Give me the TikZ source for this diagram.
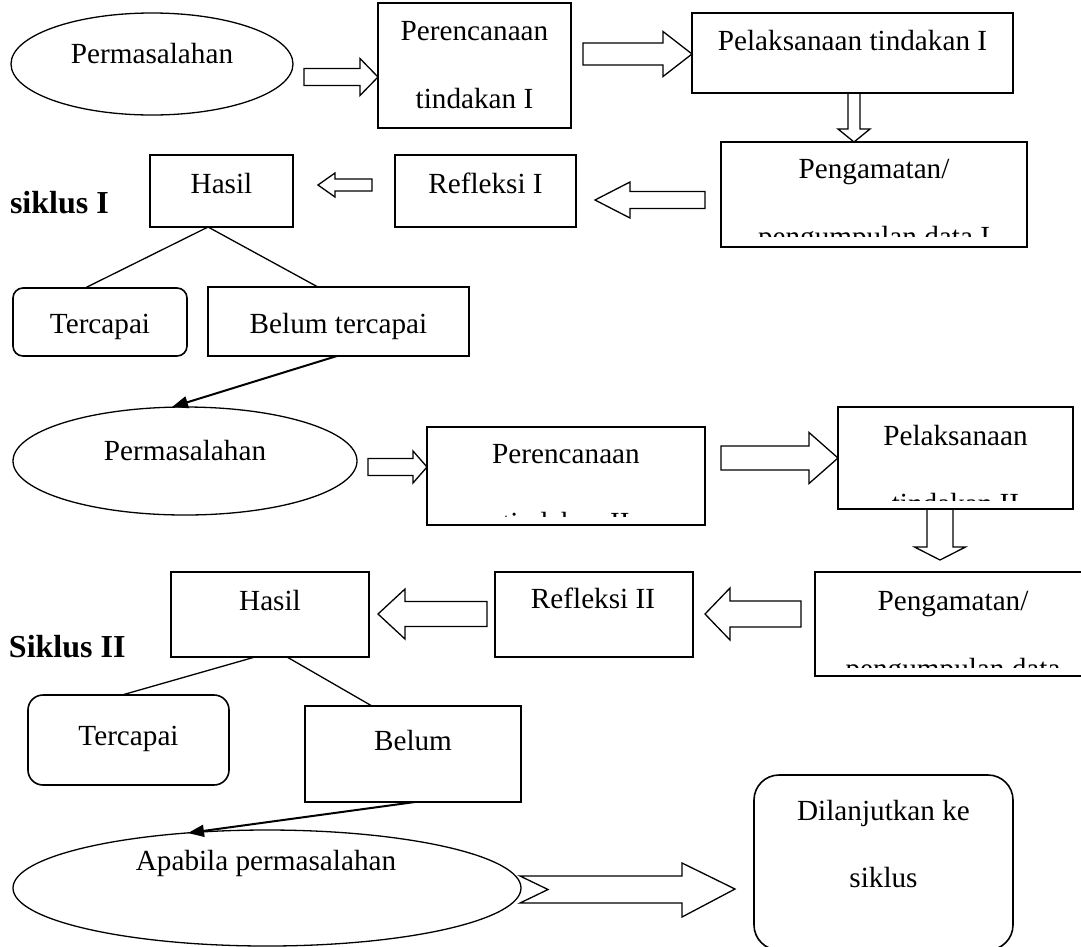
\documentclass[tikz,border=0pt]{standalone}
\usepackage{fontspec}
\setmainfont{Liberation Serif}
\usetikzlibrary{shapes.geometric,arrows.meta,calc}
\newcommand\mkbox[6]{\node[#1, minimum width={#5-#3}, minimum height={#6-#4}] (#2) at ({(#3+#5)/2},{(#4+#6)/2}) {};}
% right block arrow: x-start, tip, head-base, cy, shaft half, head half
\newcommand\myRarr[6]{\draw[blk] (#1,#4-#5) -- (#3,#4-#5) -- (#3,#4-#6) -- (#2,#4) -- (#3,#4+#6) -- (#3,#4+#5) -- (#1,#4+#5) -- cycle;}
% left block arrow: tip, head-base, x-end, cy, shaft half, head half
\newcommand\myLarr[6]{\draw[blk] (#3,#4-#5) -- (#2,#4-#5) -- (#2,#4-#6) -- (#1,#4) -- (#2,#4+#6) -- (#2,#4+#5) -- (#3,#4+#5) -- cycle;}
% down block arrow: y-start, tip, head-base, cx, shaft half, head half
\newcommand\myDarr[6]{\draw[blk] (#4-#5,#1) -- (#4-#5,#3) -- (#4-#6,#3) -- (#4,#2) -- (#4+#6,#3) -- (#4+#5,#3) -- (#4+#5,#1) -- cycle;}
\begin{document}
\begin{tikzpicture}[x=1pt,y=-1pt,
 box/.style={draw, line width=1.6pt, inner sep=0pt, outer sep=0pt},
 oval/.style={draw, ellipse, line width=1.3pt, inner sep=0pt, outer sep=0pt},
 blk/.style={line width=1.3pt, line join=miter},
 conn/.style={line width=1.3pt},
 txt/.style={anchor=base, inner sep=0pt, outer sep=0pt, font=\fontsize{29.2}{35}\selectfont},
 btxt/.style={anchor=base west, inner sep=0pt, outer sep=0pt, font=\fontsize{32}{38}\selectfont\bfseries},
 ptr/.style={line width=2pt, -{Triangle[length=16pt,width=12pt]}}]
\useasboundingbox (0,0) rectangle (1081,946);

% ---------------- Row 1 ----------------
\node[oval, minimum width=282, minimum height=102] (e1) at (152,64) {};
\node[txt] (e1t) at (152,63) {Permasalahan};
\myRarr{304}{378}{360}{77}{8.5}{18.5}
\mkbox{box}{per1}{378}{3}{571}{128}
\node[txt] (per1a) at (474.5,40) {Perencanaan};
\node[txt] (per1b) at (474.5,108) {tindakan I};
\myRarr{583}{692}{663}{54}{11}{22.5}
\mkbox{box}{pel1}{692}{13}{1013}{93}
\node[txt] (pel1t) at (852.5,50) {Pelaksanaan tindakan I};
\myDarr{93}{142}{129}{854}{6}{16}
\mkbox{box}{pen1}{721}{142}{1027}{247}
\node[txt] (pen1a) at (874,178) {Pengamatan/};
\begin{scope}
\clip (721,142) rectangle (1027,236);
\node[txt] (pen1b) at (874,246) {pengumpulan data I};
\end{scope}

% ---------------- Row 2 (siklus I) ----------------
\mkbox{box}{has1}{150}{155}{293}{227}
\node[txt] (has1t) at (221.5,193) {Hasil};
\myLarr{318}{335}{372}{185}{6}{12}
\mkbox{box}{ref1}{395}{155}{576}{227}
\node[txt] (ref1t) at (485.5,193) {Refleksi I};
\myLarr{595}{630}{705}{200}{8.5}{18}
\node[btxt] (sik1) at (10,213) {siklus I};
\mkbox{box, rounded corners=10pt}{tc1}{13}{288}{187}{356}
\node[txt] (tc1t) at (100,333) {Tercapai};
\mkbox{box}{bt1}{208}{287}{469}{356}
\node[txt] (bt1t) at (338.5,333) {Belum tercapai};
\coordinate (h1s) at ($(has1.south west)!0.406!(has1.south east)$);
\draw[conn] (h1s) -- ($(tc1.north west)!0.414!(tc1.north east)$);
\draw[conn] (h1s) -- ($(bt1.north west)!0.421!(bt1.north east)$);

% ---------------- Row 3 ----------------
\node[oval, minimum width=344, minimum height=108] (e2) at (185,461) {};
\node[txt] (e2t) at (185,460) {Permasalahan};
\draw[ptr] ($(bt1.south west)!0.494!(bt1.south east)$) -- ($(e2.north)+(-13,0)$);
\myRarr{368}{427}{413}{467}{8.5}{16}
\mkbox{box}{per2}{427}{427}{705}{525}
\node[txt] (per2a) at (566,463) {Perencanaan};
\begin{scope}
\clip (427,427) rectangle (705,516);
\node[txt] (per2b) at (566,532) {tindakan II};
\end{scope}
\myRarr{721}{838}{809}{458}{12}{25.5}
\mkbox{box}{pel2}{838}{407}{1073}{509}
\node[txt] (pel2a) at (955.5,445) {Pelaksanaan};
\begin{scope}
\clip (838,407) rectangle (1073,500);
\node[txt] (pel2b) at (955.5,513) {tindakan II};
\end{scope}
\myDarr{509}{560}{547}{940}{13}{25.5}
\mkbox{box}{pen2}{815}{572}{1095}{676}
\node[txt] (pen2a) at (953,610) {Pengamatan/};
\begin{scope}
\clip (815,572) rectangle (1095,667);
\node[txt] (pen2b) at (953,678) {pengumpulan data};
\end{scope}

% ---------------- Row 4 (Siklus II) ----------------
\myLarr{705}{730}{801}{614}{13}{26}
\mkbox{box}{ref2}{495}{572}{693}{657}
\node[txt] (ref2t) at (593,608) {Refleksi II};
\myLarr{378}{405}{487}{614}{12.5}{25}
\mkbox{box}{has2}{171}{572}{369}{657}
\node[txt] (has2t) at (270,610) {Hasil};
\node[btxt] (sik2) at (9,657) {Siklus II};
\mkbox{box, rounded corners=15pt}{tc2}{28}{695}{229}{785}
\node[txt] (tc2t) at (128.5,745) {Tercapai};
\mkbox{box}{bt2}{305}{706}{521}{802}
\node[txt] (bt2t) at (413,750) {Belum};
\draw[conn] ($(has2.south west)!0.424!(has2.south east)$) -- ($(tc2.north west)!0.468!(tc2.north east)$);
\draw[conn] ($(has2.south west)!0.586!(has2.south east)$) -- ($(bt2.north west)!0.310!(bt2.north east)$);

% ---------------- Row 5 ----------------
\node[oval, minimum width=508, minimum height=116] (e3) at (267,888) {};
\node[txt] (e3t) at (266,870) {Apabila permasalahan};
\draw[ptr] ($(bt2.south west)!0.509!(bt2.south east)$) -- ($(e3.north)+(-79,3)$);
\draw[blk] (520,876) -- (682,876) -- (682,863) -- (735,889) -- (682,917) -- (682,903) -- (520,903) -- (548,889.5) -- cycle;
\mkbox{box, rounded corners=25pt}{dl}{754}{775}{1013}{950}
\node[txt] (dla) at (883.5,820) {Dilanjutkan ke};
\node[txt] (dlb) at (883.5,887) {siklus};
\end{tikzpicture}
\end{document}
